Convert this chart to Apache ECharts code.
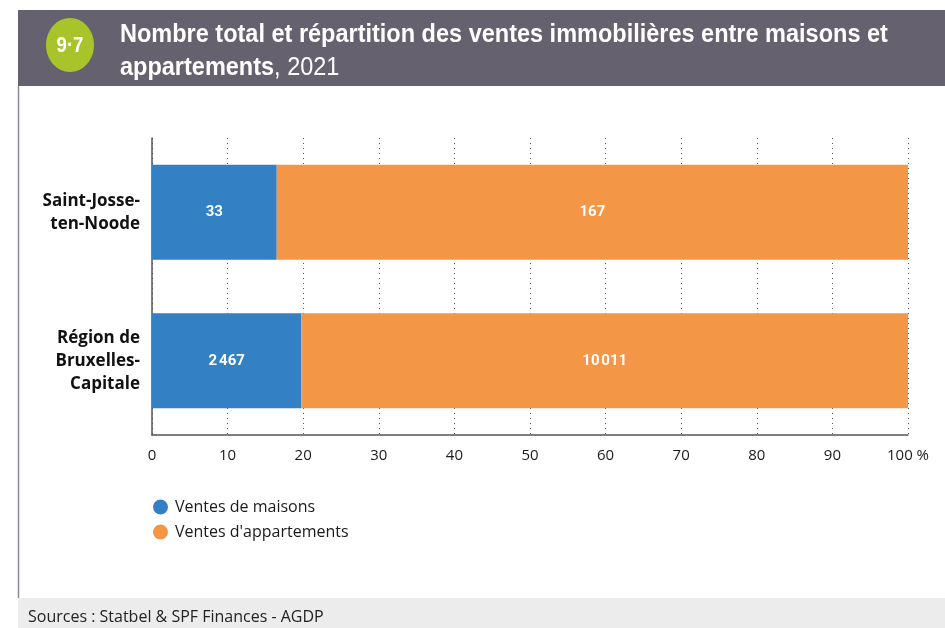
<!DOCTYPE html>
<html>
<head>
<meta charset="utf-8">
<script src="https://cdn.jsdelivr.net/npm/echarts@6/dist/echarts.min.js"></script>
<style>
html,body{margin:0;padding:0;background:#fff;}
#chart{width:945px;height:628px;}
</style>
</head>
<body>
<div id="chart"></div>
<script>
// Communes / regions shown, top to bottom
const categories = ['Saint-Josse-\nten-Noode', 'Région de\nBruxelles-\nCapitale'];
// Number of sales in 2021
const houseSales = [33, 2467];
const flatSales = [167, 10011];
const seriesNames = ['Ventes de maisons', "Ventes d'appartements"];
const xTicks = [0, 10, 20, 30, 40, 50, 60, 70, 80, 90, 100];

const totals = houseSales.map((v, i) => v + flatSales[i]);
const share = (arr) => arr.map((v, i) => ({ value: v / totals[i] * 100, count: v }));
const fmt = (n) => String(n).replace(/\B(?=(\d{3})+(?!\d))/g, '\u202f');

const chart = echarts.init(document.getElementById('chart'), null, { renderer: 'canvas' });

const labelStyle = {
  show: true,
  position: 'inside',
  color: '#fff',
  fontFamily: 'Roboto, sans-serif',
  fontWeight: 'bold',
  fontSize: 15,
  formatter: (p) => fmt(p.data.count)
};

const titleFont = '"Liberation Sans", Arial, sans-serif';

chart.setOption({
  animation: false,
  backgroundColor: '#fff',
  color: ['#3480c4', '#f39645'],
  graphic: [
    { type: 'rect', shape: { x: 18, y: 10, width: 927, height: 76 }, style: { fill: '#65616f' }, z: 0 },
    { type: 'ellipse', shape: { cx: 70, cy: 45, rx: 24, ry: 27 }, style: { fill: '#a9c42a' }, z: 1 },
    { type: 'text', x: 70, y: 46, scaleX: 0.85, style: { text: '9·7', fill: '#fff', font: 'bold 22px ' + titleFont, align: 'center', verticalAlign: 'middle' }, z: 2 },
    { type: 'text', x: 120, y: 35, scaleX: 0.94, z: 2, style: {
        text: 'Nombre total et répartition des ventes immobilières entre maisons et',
        fill: '#fff', font: 'bold 25px ' + titleFont, verticalAlign: 'middle' } },
    { type: 'text', x: 120, y: 68, scaleX: 0.94, z: 2, style: {
        text: '{b|appartements}{n|, 2021}', verticalAlign: 'middle',
        rich: {
          b: { fill: '#fff', fontSize: 25, fontWeight: 'bold', fontFamily: titleFont },
          n: { fill: '#fff', fontSize: 25, fontWeight: 'normal', fontFamily: titleFont }
        } } },
    { type: 'line', shape: { x1: 18.5, y1: 86, x2: 18.5, y2: 598 }, style: { stroke: '#8d8a99', lineWidth: 1.5 }, z: 0 },
    { type: 'rect', shape: { x: 18, y: 598, width: 927, height: 30 }, style: { fill: '#ececec' }, z: 0 },
    { type: 'text', x: 28, y: 617, style: { text: 'Sources : Statbel & SPF Finances - AGDP', fill: '#222', font: '16px "Open Sans", sans-serif', verticalAlign: 'middle' }, z: 1 }
  ],
  legend: {
    orient: 'vertical',
    left: 148,
    top: 494,
    itemGap: 9,
    itemWidth: 15,
    itemHeight: 15,
    icon: 'circle',
    textStyle: { color: '#1a1a1a', fontSize: 16, fontFamily: 'Open Sans, sans-serif', padding: [0, 0, 0, 2] },
    data: seriesNames
  },
  grid: { left: 152, top: 138, width: 756, height: 297, containLabel: false },
  xAxis: {
    type: 'value',
    min: 0,
    max: 100,
    interval: 10,
    axisLine: { show: true, lineStyle: { color: '#555', width: 1.5 } },
    axisTick: { show: false },
    axisLabel: {
      color: '#1a1a1a',
      fontSize: 15,
      fontFamily: 'Open Sans, sans-serif',
      margin: 13,
      formatter: (v) => xTicks.includes(v) ? (v === 100 ? '100 %' : String(v)) : ''
    },
    splitLine: { show: true, lineStyle: { color: '#555', type: [1, 4], width: 1 } }
  },
  yAxis: {
    type: 'category',
    inverse: true,
    data: categories,
    axisLine: { show: true, onZero: false, lineStyle: { color: '#555', width: 1.5 } },
    axisTick: { show: false },
    axisLabel: {
      color: '#111',
      fontSize: 17,
      fontWeight: 'bold',
      fontFamily: 'Open Sans, sans-serif',
      lineHeight: 23,
      margin: 12,
      align: 'right'
    }
  },
  series: [
    { name: seriesNames[0], type: 'bar', stack: 'total', barWidth: '64%', data: share(houseSales), label: labelStyle },
    { name: seriesNames[1], type: 'bar', stack: 'total', barWidth: '64%', data: share(flatSales), label: labelStyle }
  ]
});
</script>
</body>
</html>
